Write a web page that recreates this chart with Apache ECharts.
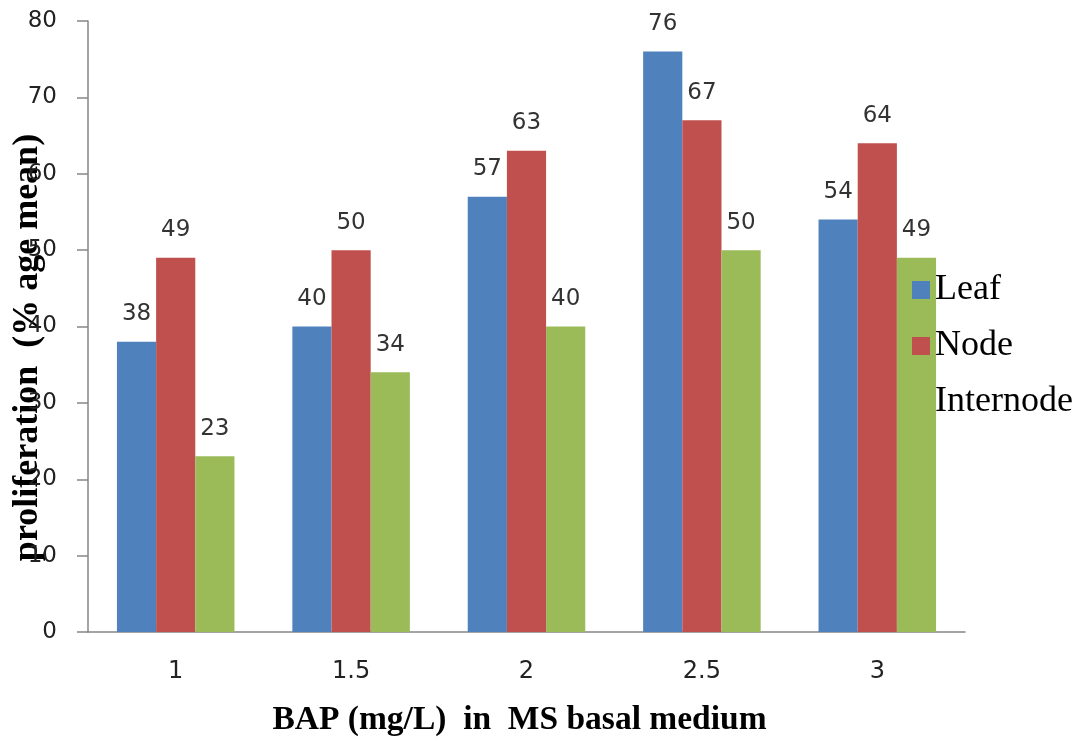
<!DOCTYPE html>
<html>
<head>
<meta charset="utf-8">
<script src="https://cdn.jsdelivr.net/npm/echarts@6/dist/echarts.min.js"></script>
<style>
  html, body { margin: 0; padding: 0; background: #fff; }
  #chart { width: 1081px; height: 742px; }
</style>
</head>
<body>
<div id="chart"></div>
<script>
// BAP concentrations (mg/L) on the x axis
const categories = ['1', '1.5', '2', '2.5', '3'];
// mean proliferation (%) per explant type
const leaf = [38, 40, 57, 76, 54];
const node = [49, 50, 63, 67, 64];
const internode = [23, 34, 40, 50, 49];
const seriesNames = ['Leaf', 'Node', 'Internode'];
const seriesColors = ['#4F81BD', '#C0504D', '#9BBB59'];

const SANS = 'DejaVu Sans, Verdana, sans-serif';
const SERIF = 'Liberation Serif, Times New Roman, serif';

const chart = echarts.init(document.getElementById('chart'));

const labelStyle = {
  show: true,
  position: 'top',
  distance: 16,
  color: '#333',
  fontFamily: SANS,
  fontSize: 23
};

function makeSeries(name, data, color) {
  return {
    name: name,
    type: 'bar',
    data: data,
    barGap: '0%',
    barCategoryGap: '33%',
    itemStyle: { color: color },
    label: labelStyle
  };
}

chart.setOption({
  animation: false,
  grid: { left: 88, right: 116, top: 21, bottom: 110, outerBoundsMode: 'none' },
  legend: {
    orient: 'vertical',
    left: 907,
    top: 267,
    itemWidth: 18,
    itemHeight: 18,
    itemGap: 20,
    itemTextGap: 6,
    icon: 'rect',
    data: seriesNames,
    textStyle: {
      fontFamily: SERIF,
      fontSize: 36,
      color: '#000'
    }
  },
  xAxis: {
    type: 'category',
    data: categories,
    name: 'BAP (mg/L)  in  MS basal medium',
    nameLocation: 'middle',
    nameGap: 71,
    nameMoveOverlap: false,
    nameTextStyle: {
      fontFamily: SERIF,
      fontWeight: 'bold',
      fontSize: 33.5,
      color: '#000',
      padding: [0, 14, 0, 0]
    },
    axisLine: { lineStyle: { color: '#868686', width: 1.5 } },
    axisTick: { length: 9, lineStyle: { color: '#868686', width: 1.5 } },
    axisLabel: {
      margin: 28,
      color: '#222',
      fontFamily: SANS,
      fontSize: 24
    }
  },
  yAxis: {
    type: 'value',
    min: 0,
    max: 80,
    interval: 10,
    name: 'proliferation  (% age mean)',
    nameLocation: 'middle',
    nameGap: 42,
    nameMoveOverlap: false,
    nameTextStyle: {
      fontFamily: SERIF,
      fontWeight: 'bold',
      fontSize: 36,
      color: '#000',
      padding: [0, 42, 0, 0]
    },
    splitLine: { show: false },
    axisLine: { show: true, lineStyle: { color: '#868686', width: 1.5 } },
    axisTick: { show: true, length: 11, lineStyle: { color: '#868686', width: 1.5 } },
    axisLabel: {
      margin: 31,
      color: '#222',
      fontFamily: SANS,
      fontSize: 23
    }
  },
  series: [
    makeSeries(seriesNames[0], leaf, seriesColors[0]),
    makeSeries(seriesNames[1], node, seriesColors[1]),
    makeSeries(seriesNames[2], internode, seriesColors[2])
  ]
});
</script>
</body>
</html>
